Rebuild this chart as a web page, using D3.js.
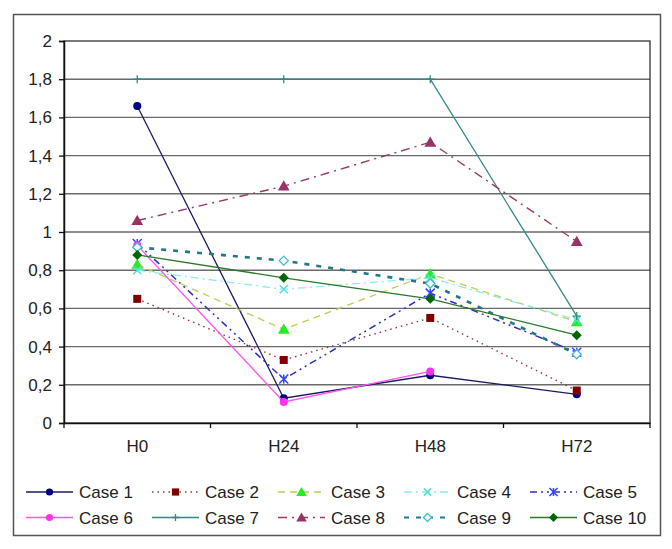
<!DOCTYPE html>
<html><head><meta charset="utf-8">
<script src="https://cdn.jsdelivr.net/npm/d3@7"></script>
<style>body{margin:0;background:#fff;} svg{display:block;font-family:"Liberation Sans",Arial,sans-serif;}</style>
</head><body>
<script>
const categories = ["H0","H24","H48","H72"];
const yTicks = [0,0.2,0.4,0.6,0.8,1,1.2,1.4,1.6,1.8,2];
const seriesNames = ["Case 1","Case 2","Case 3","Case 4","Case 5","Case 6","Case 7","Case 8","Case 9","Case 10"];
const case1 = [1.66,0.13,0.25,0.15];
const case2 = [0.65,0.33,0.55,0.17];
const case3 = [0.83,0.49,0.78,0.53];
const case4 = [0.80,0.70,0.76,0.54];
const case5 = [0.94,0.23,0.68,0.37];
const case6 = [0.93,0.11,0.27,null];
const case7 = [1.80,1.80,1.80,0.56];
const case8 = [1.06,1.24,1.47,0.95];
const case9 = [0.92,0.85,0.73,0.36];
const case10 = [0.88,0.76,0.65,0.46];
const values = [case1,case2,case3,case4,case5,case6,case7,case8,case9,case10];

const styles = [
  {line:"#1a1a66", mark:"#000080", dash:null, w:1.3, sym:"circle"},
  {line:"#8a3a3a", mark:"#800000", dash:"1.5,4", w:1.4, sym:"square"},
  {line:"#c0cc55", mark:"#22ee22", dash:"7,5", w:1.3, sym:"triangle"},
  {line:"#88eeee", mark:"#55dddd", dash:"8,4,2,4", w:1.3, sym:"x"},
  {line:"#3030c0", mark:"#3344ff", dash:"7,4,2,4,2,4", w:1.5, sym:"asterisk"},
  {line:"#ff55ee", mark:"#ff33ee", dash:null, w:1.3, sym:"circle"},
  {line:"#338888", mark:"#338888", dash:null, w:1.3, sym:"plus"},
  {line:"#9a3a66", mark:"#993366", dash:"9,5,2,5", w:1.4, sym:"triangle"},
  {line:"#227788", mark:"#44bbcc", dash:"5,7", w:2.6, sym:"diamondOpen"},
  {line:"#2a7a2a", mark:"#006600", dash:null, w:1.3, sym:"diamond"}
];

const W=672,H=549;
const FS="17px";
const svg=d3.select("body").append("svg").attr("width",W).attr("height",H);
const L=64,T=41,R=650,B=423;

svg.append("rect").attr("x",13.5).attr("y",14.5).attr("width",647).attr("height",521)
  .attr("fill","#fff").attr("stroke","#555").attr("stroke-width",1.5);

const x=d3.scaleBand().domain(categories).range([L,R]);
const y=d3.scaleLinear().domain([0,2]).range([B,T]);

svg.append("g").selectAll("line").data(yTicks.filter(v=>v>0&&v<2)).join("line")
  .attr("x1",L).attr("x2",R).attr("y1",d=>y(d)).attr("y2",d=>y(d))
  .attr("stroke","#6a6a6a").attr("stroke-width",1.4);
svg.append("rect").attr("x",L).attr("y",T).attr("width",R-L).attr("height",B-T)
  .attr("fill","none").attr("stroke","#333").attr("stroke-width",1.3);

const ya=svg.append("g").attr("transform",`translate(${L},0)`)
  .call(d3.axisLeft(y).tickValues(yTicks).tickSize(5).tickPadding(7)
    .tickFormat(d=>String(d).replace(".",",")));
ya.select(".domain").attr("stroke","#111").attr("stroke-width",1.5);
ya.selectAll(".tick line").attr("stroke","#111").attr("stroke-width",1.3);
ya.selectAll("text").attr("font-size",FS).attr("fill","#222").attr("font-family","Liberation Sans, Arial, sans-serif");

const xa=svg.append("g").attr("transform",`translate(0,${B})`)
  .call(d3.axisBottom(x).tickSize(0).tickPadding(17));
xa.select(".domain").attr("stroke","#111").attr("stroke-width",1.5);
xa.selectAll("text").attr("font-size",FS).attr("fill","#222").attr("font-family","Liberation Sans, Arial, sans-serif");
svg.append("g").selectAll("line").data(categories.concat(["end"])).join("line")
  .attr("x1",(d,i)=>L+i*x.step()).attr("x2",(d,i)=>L+i*x.step())
  .attr("y1",B).attr("y2",B+5).attr("stroke","#111").attr("stroke-width",1.3);

function drawMarker(g,sym,cx,cy,color,s){
  s=s||1;
  if(sym==="circle"){g.append("circle").attr("cx",cx).attr("cy",cy).attr("r",4*s).attr("fill",color);}
  else if(sym==="square"){g.append("rect").attr("x",cx-4*s).attr("y",cy-4*s).attr("width",8*s).attr("height",8*s).attr("fill",color);}
  else if(sym==="triangle"){g.append("path").attr("d",d3.symbol(d3.symbolTriangle,60*s*s)()).attr("transform",`translate(${cx},${cy+1})`).attr("fill",color);}
  else if(sym==="diamond"){const r=5*s;g.append("path").attr("d",`M${cx},${cy-r}L${cx+r},${cy}L${cx},${cy+r}L${cx-r},${cy}Z`).attr("fill",color);}
  else if(sym==="diamondOpen"){const r=4.5*s;g.append("path").attr("d",`M${cx},${cy-r}L${cx+r},${cy}L${cx},${cy+r}L${cx-r},${cy}Z`).attr("fill","#fff").attr("stroke",color).attr("stroke-width",1.3);}
  else if(sym==="x"){const r=4*s;g.append("path").attr("d",`M${cx-r},${cy-r}L${cx+r},${cy+r}M${cx-r},${cy+r}L${cx+r},${cy-r}`).attr("stroke",color).attr("stroke-width",1.5);}
  else if(sym==="plus"){const r=4*s;g.append("path").attr("d",`M${cx-r},${cy}L${cx+r},${cy}M${cx},${cy-r}L${cx},${cy+r}`).attr("stroke",color).attr("stroke-width",1.3);}
  else if(sym==="asterisk"){const r=4.5*s;g.append("path").attr("d",`M${cx-r},${cy-r}L${cx+r},${cy+r}M${cx-r},${cy+r}L${cx+r},${cy-r}M${cx},${cy-r}L${cx},${cy+r}`).attr("stroke",color).attr("stroke-width",1.5);}
}

const lineGen=d3.line().defined(d=>d.v!=null).x(d=>x(d.c)+x.bandwidth()/2).y(d=>y(d.v));
values.forEach((vals,i)=>{
  const st=styles[i];
  const pts=categories.map((c,j)=>({c:c,v:vals[j]}));
  const g=svg.append("g");
  g.append("path").attr("d",lineGen(pts)).attr("fill","none").attr("stroke",st.line)
    .attr("stroke-width",st.w).attr("stroke-dasharray",st.dash);
  pts.filter(p=>p.v!=null).forEach(p=>drawMarker(g,st.sym,x(p.c)+x.bandwidth()/2,y(p.v),st.mark));
});

const lg=svg.append("g");
seriesNames.forEach((name,i)=>{
  const st=styles[i];
  const col=i%5,row=Math.floor(i/5);
  const lx=26+col*126,ly=492+row*25.5;
  lg.append("line").attr("x1",lx).attr("x2",lx+47).attr("y1",ly).attr("y2",ly)
    .attr("stroke",st.line).attr("stroke-width",Math.min(st.w,2.2)).attr("stroke-dasharray",st.dash);
  drawMarker(lg,st.sym,lx+23.5,ly,st.mark,0.9);
  lg.append("text").attr("x",lx+53).attr("y",ly).attr("dy","0.36em").attr("font-size",FS)
    .attr("fill","#222").text(name);
});
</script>
</body></html>
